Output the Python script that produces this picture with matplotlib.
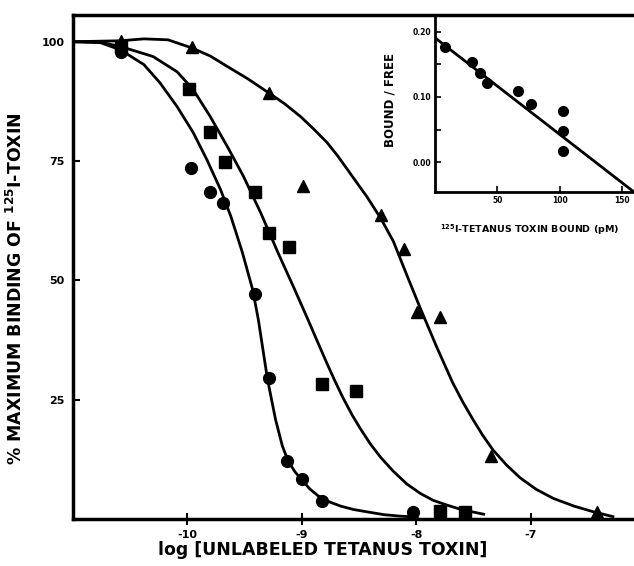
import matplotlib
matplotlib.use('Agg')
import matplotlib.pyplot as plt

plt.rcParams['font.family'] = ['DejaVu Sans']
plt.rcParams['font.weight'] = 'bold'
plt.rcParams['mathtext.default'] = 'bf'

# main plot: measured points (log M, % max binding)
circ_x = [-10.58, -9.97, -9.80, -9.69, -9.41, -9.29, -9.13, -9.00, -8.82, -8.03]
circ_y = [97.9, 73.6, 68.6, 66.3, 47.1, 29.5, 12.1, 8.4, 3.8, 1.5]
sq_x = [-10.58, -9.99, -9.80, -9.67, -9.41, -9.29, -9.11, -8.82, -8.53, -7.79, -7.57]
sq_y = [99.0, 90.0, 81.0, 74.7, 68.6, 60.0, 56.9, 28.2, 26.8, 1.7, 1.5]
tri_x = [-10.58, -9.96, -9.29, -8.99, -8.31, -8.11, -7.99, -7.79, -7.35, -6.42]
tri_y = [100.2, 99.0, 89.3, 69.7, 63.8, 56.5, 43.3, 42.3, 13.2, 1.5]

# fitted curves
c1_x = [-11.0, -10.76, -10.585, -10.38, -10.24, -10.09, -9.95, -9.83, -9.71, -9.62, -9.52,
        -9.43, -9.38, -9.30, -9.23, -9.17, -9.12, -9.06, -9.00, -8.93, -8.86, -8.76,
        -8.66, -8.55, -8.43, -8.28, -8.14, -7.99]
c1_y = [100.0, 99.8, 98.3, 95.2, 91.4, 86.4, 81.0, 75.3, 69.0, 63.4, 55.9,
        48.1, 41.8, 29.3, 20.9, 15.3, 12.2, 9.9, 8.2, 6.3, 4.9, 3.6,
        2.7, 2.0, 1.5, 0.9, 0.6, 0.4]
c2_x = [-11.0, -10.76, -10.585, -10.30, -10.09, -9.95, -9.80, -9.65, -9.51, -9.36, -9.21,
        -9.07, -8.95, -8.86, -8.78, -8.71, -8.64, -8.56, -8.49, -8.40, -8.31, -8.20,
        -8.08, -7.96, -7.85, -7.73, -7.62, -7.51, -7.41]
c2_y = [100.0, 99.9, 99.0, 96.9, 93.7, 90.0, 84.3, 78.0, 71.8, 64.2, 55.9,
        48.5, 42.0, 37.0, 32.6, 28.9, 25.4, 21.8, 19.0, 15.7, 12.9, 10.0,
        7.3, 5.3, 3.9, 2.9, 2.1, 1.5, 1.0]
c3_x = [-11.0, -10.585, -10.38, -10.17, -9.96, -9.80, -9.65, -9.47, -9.29, -9.15, -9.01,
        -8.90, -8.78, -8.69, -8.60, -8.52, -8.43, -8.31, -8.20, -8.08, -7.97, -7.82,
        -7.68, -7.59, -7.50, -7.42, -7.33, -7.21, -7.09, -6.95, -6.80, -6.62, -6.45, -6.28]
c3_y = [100.0, 100.2, 100.6, 100.4, 98.7, 97.0, 94.8, 92.2, 89.3, 87.0, 84.3,
        81.8, 78.9, 76.2, 73.2, 70.5, 67.5, 63.0, 58.2, 51.0, 44.5, 36.0,
        28.5, 24.4, 20.7, 17.6, 14.5, 11.3, 8.6, 6.2, 4.3, 2.7, 1.5, 0.5]

x_ticks = [-10, -9, -8, -7]
y_ticks = [25, 50, 75, 100]

# inset: Scatchard plot
sc_x = [8.0, 29.7, 36.1, 41.7, 66.6, 77.0, 102.6, 102.6, 102.6]
sc_y = [0.177, 0.154, 0.137, 0.122, 0.109, 0.089, 0.078, 0.048, 0.017]
sc_line_x = [0, 159.6]
sc_line_y = [0.191, -0.046]
in_x_ticks = [50, 100, 150]
in_y_ticks = [0.00, 0.10, 0.20]
in_y_minor = [0.05, 0.15]

fig = plt.figure(figsize=(6.34, 5.66), dpi=100)
ax = fig.add_axes([73 / 634, 1 - 519 / 566, 1 - 73 / 634, 504 / 566])

ax.plot(c1_x, c1_y, color='black', lw=2)
ax.plot(c2_x, c2_y, color='black', lw=2)
ax.plot(c3_x, c3_y, color='black', lw=2)
ax.plot(circ_x, circ_y, 'o', color='black', ms=8.5)
ax.plot(sq_x, sq_y, 's', color='black', ms=8)
ax.plot(tri_x, tri_y, '^', color='black', ms=9)

ax.set_xlim(-11.0, -6.096)
ax.set_ylim(0, 105.6)
ax.set_xticks(x_ticks)
ax.set_xticklabels([str(t) for t in x_ticks], fontsize=8, fontweight='bold')
ax.set_yticks(y_ticks)
ax.set_yticklabels([str(t) for t in y_ticks], fontsize=8, fontweight='bold')
ax.tick_params(axis='x', direction='inout', length=8, width=1.5, pad=4)
ax.tick_params(axis='y', direction='in', length=5, width=1.5, pad=6)
for s in ['left', 'bottom', 'top']:
    ax.spines[s].set_linewidth(2.5)
ax.spines['right'].set_visible(False)

fig.text(323 / 634, 1 - 550 / 566, 'log [UNLABELED TETANUS TOXIN]',
         ha='center', va='center', fontsize=12.5, fontweight='bold')
fig.text(16 / 634, 1 - 289 / 566, r'% MAXIMUM BINDING OF $^{125}$I-TOXIN',
         ha='center', va='center', rotation=90, fontsize=12.5, fontweight='bold')

# inset
ins = fig.add_axes([435 / 634, 1 - 192 / 566, 1 - 435 / 634, 177 / 566])
ins.plot(sc_line_x, sc_line_y, color='black', lw=2)
ins.plot(sc_x, sc_y, 'o', color='black', ms=7)
ins.set_xlim(0, 159.6)
ins.set_ylim(-0.046, 0.226)
ins.set_xticks(in_x_ticks)
ins.set_xticklabels([str(t) for t in in_x_ticks], fontsize=5.5, fontweight='bold')
ins.set_yticks(in_y_ticks)
ins.set_yticklabels(['%.2f' % t for t in in_y_ticks], fontsize=5.5, fontweight='bold')
ins.set_yticks(in_y_minor, minor=True)
ins.tick_params(which='both', direction='in', length=4, width=1.2, pad=3)
for s in ['left', 'bottom']:
    ins.spines[s].set_linewidth(2)
ins.spines['top'].set_visible(False)
ins.spines['right'].set_visible(False)
ins.patch.set_alpha(0)

fig.text(390 / 634, 1 - 100 / 566, 'BOUND / FREE', rotation=90,
         ha='center', va='center', fontsize=8.5, fontweight='bold')
fig.text(440 / 634, 1 - 230 / 566, r'$^{125}$I-TETANUS TOXIN BOUND (pM)',
         ha='left', va='center', fontsize=6.8, fontweight='bold')

fig.savefig('out.png', dpi=100)
